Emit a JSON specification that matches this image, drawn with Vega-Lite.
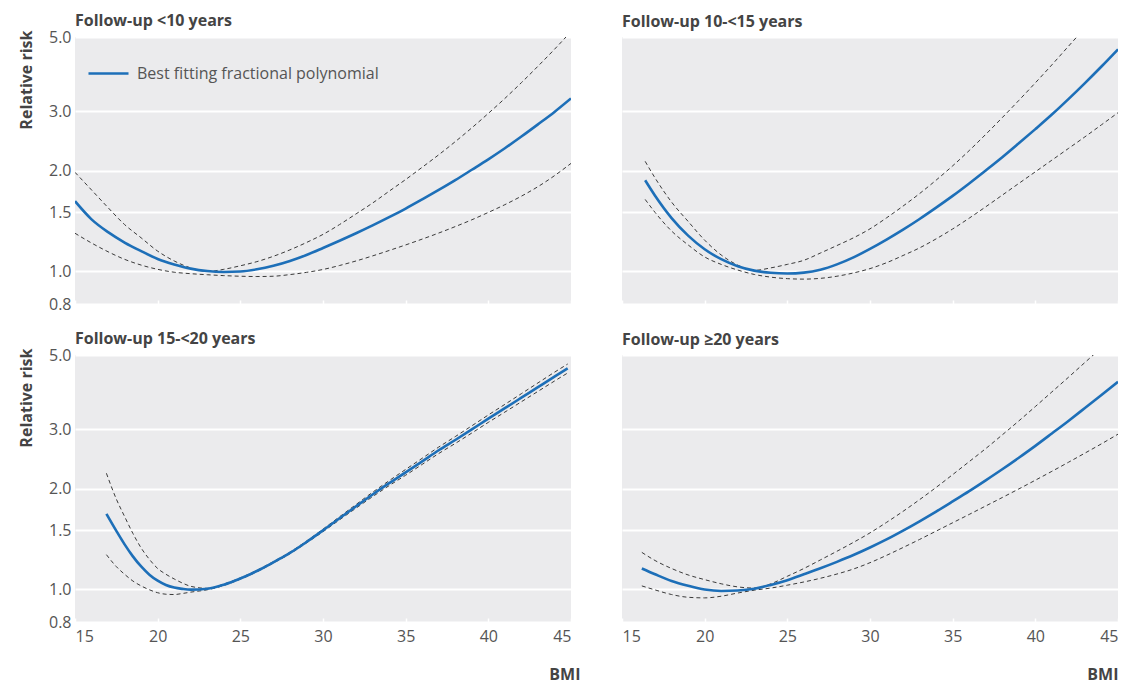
{
  "$schema": "https://vega.github.io/schema/vega-lite/v6.json",
  "padding": {"left": 18, "top": 13, "right": 5, "bottom": 5},
  "background": "white",
  "columns": 2,
  "bounds": "flush",
  "spacing": {"row": 51, "column": 51},
  "config": {
    "font": "Open Sans",
    "view": {"fill": "#ebebed", "stroke": null},
    "axis": {"domain": false, "labelFontSize": 16, "labelColor": "#555555", "titleFontSize": 16, "titleFontWeight": "bold", "titleColor": "#444444"},
    "axisY": {"grid": true, "gridColor": "#ffffff", "gridWidth": 2, "ticks": false, "labelPadding": 4, "titlePadding": 14},
    "axisX": {"grid": false, "ticks": true, "tickColor": "#ffffff", "tickSize": -4, "tickWidth": 1.5, "labelPadding": 10},
    "title": {"anchor": "start", "frame": "group", "fontSize": 16, "fontWeight": "bold", "color": "#444444"}
  },
  "data": {"values": [
    {"p":"a","bmi":15,"fit":1.62,"lo":1.30,"hi":1.975},
    {"p":"a","bmi":16,"fit":1.43,"lo":1.216,"hi":1.75},
    {"p":"a","bmi":17,"fit":1.31,"lo":1.145,"hi":1.55},
    {"p":"a","bmi":18,"fit":1.22,"lo":1.087,"hi":1.38},
    {"p":"a","bmi":19,"fit":1.15,"lo":1.045,"hi":1.26},
    {"p":"a","bmi":20,"fit":1.09,"lo":1.015,"hi":1.15},
    {"p":"a","bmi":21,"fit":1.05,"lo":0.995,"hi":1.075},
    {"p":"a","bmi":22,"fit":1.02,"lo":0.985,"hi":1.025},
    {"p":"a","bmi":23,"fit":1.003,"lo":0.978,"hi":1.0},
    {"p":"a","bmi":24,"fit":0.997,"lo":0.972,"hi":1.015},
    {"p":"a","bmi":25,"fit":1.0,"lo":0.968,"hi":1.04},
    {"p":"a","bmi":26,"fit":1.015,"lo":0.966,"hi":1.07},
    {"p":"a","bmi":27,"fit":1.04,"lo":0.968,"hi":1.11},
    {"p":"a","bmi":28,"fit":1.075,"lo":0.979,"hi":1.16},
    {"p":"a","bmi":29,"fit":1.12,"lo":0.994,"hi":1.22},
    {"p":"a","bmi":30,"fit":1.175,"lo":1.014,"hi":1.29},
    {"p":"a","bmi":31,"fit":1.235,"lo":1.042,"hi":1.38},
    {"p":"a","bmi":32,"fit":1.30,"lo":1.075,"hi":1.485},
    {"p":"a","bmi":33,"fit":1.372,"lo":1.113,"hi":1.60},
    {"p":"a","bmi":34,"fit":1.452,"lo":1.155,"hi":1.735},
    {"p":"a","bmi":35,"fit":1.54,"lo":1.20,"hi":1.88},
    {"p":"a","bmi":36,"fit":1.64,"lo":1.249,"hi":2.045},
    {"p":"a","bmi":37,"fit":1.75,"lo":1.302,"hi":2.228},
    {"p":"a","bmi":38,"fit":1.872,"lo":1.361,"hi":2.438},
    {"p":"a","bmi":39,"fit":2.01,"lo":1.426,"hi":2.68},
    {"p":"a","bmi":40,"fit":2.16,"lo":1.50,"hi":2.96},
    {"p":"a","bmi":41,"fit":2.33,"lo":1.582,"hi":3.28},
    {"p":"a","bmi":42,"fit":2.525,"lo":1.677,"hi":3.655},
    {"p":"a","bmi":43,"fit":2.745,"lo":1.79,"hi":4.09},
    {"p":"a","bmi":44,"fit":2.99,"lo":1.93,"hi":4.595},
    {"p":"a","bmi":45,"fit":3.28,"lo":2.10,"hi":5.19},

    {"p":"b","bmi":16.4,"fit":1.87,"lo":1.64,"hi":2.13},
    {"p":"b","bmi":17,"fit":1.682,"lo":1.50,"hi":1.90},
    {"p":"b","bmi":18,"fit":1.443,"lo":1.32,"hi":1.61},
    {"p":"b","bmi":19,"fit":1.279,"lo":1.20,"hi":1.41},
    {"p":"b","bmi":20,"fit":1.165,"lo":1.105,"hi":1.24},
    {"p":"b","bmi":21,"fit":1.088,"lo":1.05,"hi":1.12},
    {"p":"b","bmi":22,"fit":1.037,"lo":1.01,"hi":1.045},
    {"p":"b","bmi":23,"fit":1.006,"lo":0.98,"hi":1.008},
    {"p":"b","bmi":24,"fit":0.991,"lo":0.962,"hi":1.025},
    {"p":"b","bmi":25,"fit":0.986,"lo":0.952,"hi":1.05},
    {"p":"b","bmi":26,"fit":0.992,"lo":0.949,"hi":1.08},
    {"p":"b","bmi":27,"fit":1.012,"lo":0.954,"hi":1.135},
    {"p":"b","bmi":28,"fit":1.05,"lo":0.968,"hi":1.195},
    {"p":"b","bmi":29,"fit":1.102,"lo":0.99,"hi":1.26},
    {"p":"b","bmi":30,"fit":1.168,"lo":1.02,"hi":1.34},
    {"p":"b","bmi":31,"fit":1.245,"lo":1.062,"hi":1.445},
    {"p":"b","bmi":32,"fit":1.333,"lo":1.116,"hi":1.567},
    {"p":"b","bmi":33,"fit":1.434,"lo":1.176,"hi":1.707},
    {"p":"b","bmi":34,"fit":1.55,"lo":1.251,"hi":1.872},
    {"p":"b","bmi":35,"fit":1.68,"lo":1.339,"hi":2.065},
    {"p":"b","bmi":36,"fit":1.83,"lo":1.442,"hi":2.293},
    {"p":"b","bmi":37,"fit":2.0,"lo":1.559,"hi":2.563},
    {"p":"b","bmi":38,"fit":2.19,"lo":1.689,"hi":2.875},
    {"p":"b","bmi":39,"fit":2.41,"lo":1.83,"hi":3.235},
    {"p":"b","bmi":40,"fit":2.657,"lo":1.982,"hi":3.65},
    {"p":"b","bmi":41,"fit":2.936,"lo":2.147,"hi":4.13},
    {"p":"b","bmi":42,"fit":3.264,"lo":2.326,"hi":4.69},
    {"p":"b","bmi":43,"fit":3.644,"lo":2.52,"hi":5.32},
    {"p":"b","bmi":44,"fit":4.084,"lo":2.737,"hi":null},
    {"p":"b","bmi":45,"fit":4.595,"lo":2.974,"hi":null},

    {"p":"c","bmi":16.9,"fit":1.68,"lo":1.27,"hi":2.22},
    {"p":"c","bmi":17.5,"fit":1.495,"lo":1.17,"hi":1.86},
    {"p":"c","bmi":18,"fit":1.363,"lo":1.11,"hi":1.65},
    {"p":"c","bmi":18.5,"fit":1.255,"lo":1.06,"hi":1.47},
    {"p":"c","bmi":19,"fit":1.171,"lo":1.025,"hi":1.33},
    {"p":"c","bmi":19.5,"fit":1.107,"lo":0.998,"hi":1.23},
    {"p":"c","bmi":20,"fit":1.062,"lo":0.978,"hi":1.155},
    {"p":"c","bmi":20.5,"fit":1.031,"lo":0.968,"hi":1.11},
    {"p":"c","bmi":21,"fit":1.013,"lo":0.966,"hi":1.075},
    {"p":"c","bmi":21.5,"fit":1.004,"lo":0.973,"hi":1.045},
    {"p":"c","bmi":22,"fit":0.999,"lo":0.982,"hi":1.022},
    {"p":"c","bmi":23,"fit":1.005,"lo":0.998,"hi":1.008},
    {"p":"c","bmi":24,"fit":1.033,"lo":1.028,"hi":1.038},
    {"p":"c","bmi":25,"fit":1.078,"lo":1.073,"hi":1.083},
    {"p":"c","bmi":26,"fit":1.135,"lo":1.129,"hi":1.141},
    {"p":"c","bmi":27,"fit":1.205,"lo":1.199,"hi":1.211},
    {"p":"c","bmi":28,"fit":1.285,"lo":1.278,"hi":1.292},
    {"p":"c","bmi":29,"fit":1.385,"lo":1.376,"hi":1.394},
    {"p":"c","bmi":30,"fit":1.50,"lo":1.487,"hi":1.513},
    {"p":"c","bmi":31,"fit":1.63,"lo":1.613,"hi":1.647},
    {"p":"c","bmi":32,"fit":1.77,"lo":1.748,"hi":1.792},
    {"p":"c","bmi":33,"fit":1.92,"lo":1.891,"hi":1.949},
    {"p":"c","bmi":34,"fit":2.075,"lo":2.04,"hi":2.11},
    {"p":"c","bmi":35,"fit":2.235,"lo":2.191,"hi":2.28},
    {"p":"c","bmi":36,"fit":2.41,"lo":2.36,"hi":2.461},
    {"p":"c","bmi":37,"fit":2.60,"lo":2.543,"hi":2.658},
    {"p":"c","bmi":38,"fit":2.79,"lo":2.725,"hi":2.856},
    {"p":"c","bmi":39,"fit":3.0,"lo":2.927,"hi":3.075},
    {"p":"c","bmi":40,"fit":3.23,"lo":3.149,"hi":3.313},
    {"p":"c","bmi":41,"fit":3.47,"lo":3.379,"hi":3.563},
    {"p":"c","bmi":42,"fit":3.73,"lo":3.628,"hi":3.835},
    {"p":"c","bmi":43,"fit":4.01,"lo":3.895,"hi":4.128},
    {"p":"c","bmi":44,"fit":4.31,"lo":4.181,"hi":4.442},
    {"p":"c","bmi":44.8,"fit":4.56,"lo":4.42,"hi":4.70},

    {"p":"d","bmi":16.2,"fit":1.155,"lo":1.025,"hi":1.29},
    {"p":"d","bmi":17,"fit":1.11,"lo":0.997,"hi":1.22},
    {"p":"d","bmi":18,"fit":1.06,"lo":0.966,"hi":1.155},
    {"p":"d","bmi":19,"fit":1.026,"lo":0.948,"hi":1.105},
    {"p":"d","bmi":20,"fit":1.0,"lo":0.944,"hi":1.07},
    {"p":"d","bmi":21,"fit":0.99,"lo":0.955,"hi":1.04},
    {"p":"d","bmi":22,"fit":0.993,"lo":0.976,"hi":1.018},
    {"p":"d","bmi":23,"fit":1.005,"lo":0.995,"hi":1.01},
    {"p":"d","bmi":24,"fit":1.032,"lo":1.01,"hi":1.04},
    {"p":"d","bmi":25,"fit":1.066,"lo":1.03,"hi":1.095},
    {"p":"d","bmi":26,"fit":1.11,"lo":1.053,"hi":1.155},
    {"p":"d","bmi":27,"fit":1.157,"lo":1.08,"hi":1.225},
    {"p":"d","bmi":28,"fit":1.209,"lo":1.112,"hi":1.30},
    {"p":"d","bmi":29,"fit":1.267,"lo":1.151,"hi":1.382},
    {"p":"d","bmi":30,"fit":1.334,"lo":1.202,"hi":1.475},
    {"p":"d","bmi":31,"fit":1.41,"lo":1.264,"hi":1.585},
    {"p":"d","bmi":32,"fit":1.498,"lo":1.334,"hi":1.71},
    {"p":"d","bmi":33,"fit":1.597,"lo":1.41,"hi":1.853},
    {"p":"d","bmi":34,"fit":1.707,"lo":1.493,"hi":2.015},
    {"p":"d","bmi":35,"fit":1.83,"lo":1.581,"hi":2.20},
    {"p":"d","bmi":36,"fit":1.964,"lo":1.674,"hi":2.405},
    {"p":"d","bmi":37,"fit":2.115,"lo":1.774,"hi":2.63},
    {"p":"d","bmi":38,"fit":2.282,"lo":1.88,"hi":2.89},
    {"p":"d","bmi":39,"fit":2.47,"lo":1.994,"hi":3.18},
    {"p":"d","bmi":40,"fit":2.68,"lo":2.117,"hi":3.51},
    {"p":"d","bmi":41,"fit":2.918,"lo":2.25,"hi":3.88},
    {"p":"d","bmi":42,"fit":3.18,"lo":2.394,"hi":4.29},
    {"p":"d","bmi":43,"fit":3.475,"lo":2.55,"hi":4.75},
    {"p":"d","bmi":44,"fit":3.80,"lo":2.718,"hi":5.26},
    {"p":"d","bmi":45,"fit":4.16,"lo":2.904,"hi":null}
  ]},
  "concat": [
    {
      "title": {"text": "Follow-up <10 years", "offset": 0},
      "width": 496, "height": 267,
      "transform": [{"filter": "datum.p === 'a'"}, {"fold": ["fit", "lo", "hi"], "as": ["s", "v"]}],
      "encoding": {
        "x": {"field": "bmi", "type": "quantitative", "scale": {"domain": [15, 45], "nice": false, "zero": false}, "axis": {"values": [15, 20, 25, 30, 35, 40, 45], "labels": false, "title": null}},
        "y": {"field": "v", "type": "quantitative", "scale": {"type": "log", "domain": [0.8, 5], "nice": false}, "axis": {"values": [0.8, 1, 1.5, 2, 3, 5], "format": ".1f", "title": "Relative risk", "titleAnchor": "end", "titleY": -7}}
      },
      "layer": [
        {"transform": [{"filter": "datum.s !== 'fit'"}], "mark": {"type": "line", "interpolate": "monotone", "clip": true, "color": "#3a3a3a", "strokeWidth": 1, "strokeDash": [4, 3]}, "encoding": {"detail": {"field": "s"}}},
        {"transform": [{"filter": "datum.s === 'fit'"}], "mark": {"type": "line", "interpolate": "monotone", "clip": true, "strokeWidth": 2.6}, "encoding": {"color": {"datum": "Best fitting fractional polynomial", "scale": {"range": ["#1d6fb8"]}, "legend": {"orient": "none", "legendX": 12, "legendY": 15, "title": null, "symbolType": "stroke", "symbolSize": 1600, "symbolStrokeWidth": 2.6, "labelFontSize": 16, "labelColor": "#555555", "labelOffset": 7, "labelLimit": 0}}}}
      ]
    },
    {
      "title": {"text": "Follow-up 10-<15 years", "offset": 7},
      "width": 496, "height": 267,
      "transform": [{"filter": "datum.p === 'b'"}, {"fold": ["fit", "lo", "hi"], "as": ["s", "v"]}],
      "encoding": {
        "x": {"field": "bmi", "type": "quantitative", "scale": {"domain": [15, 45], "nice": false, "zero": false}, "axis": {"values": [15, 20, 25, 30, 35, 40, 45], "labels": false, "title": null}},
        "y": {"field": "v", "type": "quantitative", "scale": {"type": "log", "domain": [0.8, 5], "nice": false}, "axis": {"values": [0.8, 1, 1.5, 2, 3, 5], "labels": false, "title": null}}
      },
      "layer": [
        {"transform": [{"filter": "datum.s !== 'fit'"}], "mark": {"type": "line", "interpolate": "monotone", "clip": true, "color": "#3a3a3a", "strokeWidth": 1, "strokeDash": [4, 3]}, "encoding": {"detail": {"field": "s"}}},
        {"transform": [{"filter": "datum.s === 'fit'"}], "mark": {"type": "line", "interpolate": "monotone", "clip": true, "strokeWidth": 2.6, "color": "#1d6fb8"}, "encoding": {}}
      ]
    },
    {
      "title": {"text": "Follow-up 15-<20 years", "offset": 0},
      "width": 496, "height": 267,
      "transform": [{"filter": "datum.p === 'c'"}, {"fold": ["fit", "lo", "hi"], "as": ["s", "v"]}],
      "encoding": {
        "x": {"field": "bmi", "type": "quantitative", "scale": {"domain": [15, 45], "nice": false, "zero": false}, "axis": {"values": [15, 20, 25, 30, 35, 40, 45], "title": "BMI", "titleAnchor": "end", "titlePadding": 22, "titleX": 505, "titleAlign": "right"}},
        "y": {"field": "v", "type": "quantitative", "scale": {"type": "log", "domain": [0.8, 5], "nice": false}, "axis": {"values": [0.8, 1, 1.5, 2, 3, 5], "format": ".1f", "title": "Relative risk", "titleAnchor": "end", "titleY": -7}}
      },
      "layer": [
        {"transform": [{"filter": "datum.s !== 'fit'"}], "mark": {"type": "line", "interpolate": "monotone", "clip": true, "color": "#3a3a3a", "strokeWidth": 1, "strokeDash": [4, 3]}, "encoding": {"detail": {"field": "s"}}},
        {"transform": [{"filter": "datum.s === 'fit'"}], "mark": {"type": "line", "interpolate": "monotone", "clip": true, "strokeWidth": 2.6, "color": "#1d6fb8"}, "encoding": {}}
      ]
    },
    {
      "title": {"text": "Follow-up ≥20 years", "offset": 7},
      "width": 496, "height": 267,
      "transform": [{"filter": "datum.p === 'd'"}, {"fold": ["fit", "lo", "hi"], "as": ["s", "v"]}],
      "encoding": {
        "x": {"field": "bmi", "type": "quantitative", "scale": {"domain": [15, 45], "nice": false, "zero": false}, "axis": {"values": [15, 20, 25, 30, 35, 40, 45], "title": "BMI", "titleAnchor": "end", "titlePadding": 22}},
        "y": {"field": "v", "type": "quantitative", "scale": {"type": "log", "domain": [0.8, 5], "nice": false}, "axis": {"values": [0.8, 1, 1.5, 2, 3, 5], "labels": false, "title": null}}
      },
      "layer": [
        {"transform": [{"filter": "datum.s !== 'fit'"}], "mark": {"type": "line", "interpolate": "monotone", "clip": true, "color": "#3a3a3a", "strokeWidth": 1, "strokeDash": [4, 3]}, "encoding": {"detail": {"field": "s"}}},
        {"transform": [{"filter": "datum.s === 'fit'"}], "mark": {"type": "line", "interpolate": "monotone", "clip": true, "strokeWidth": 2.6, "color": "#1d6fb8"}, "encoding": {}}
      ]
    }
  ]
}
